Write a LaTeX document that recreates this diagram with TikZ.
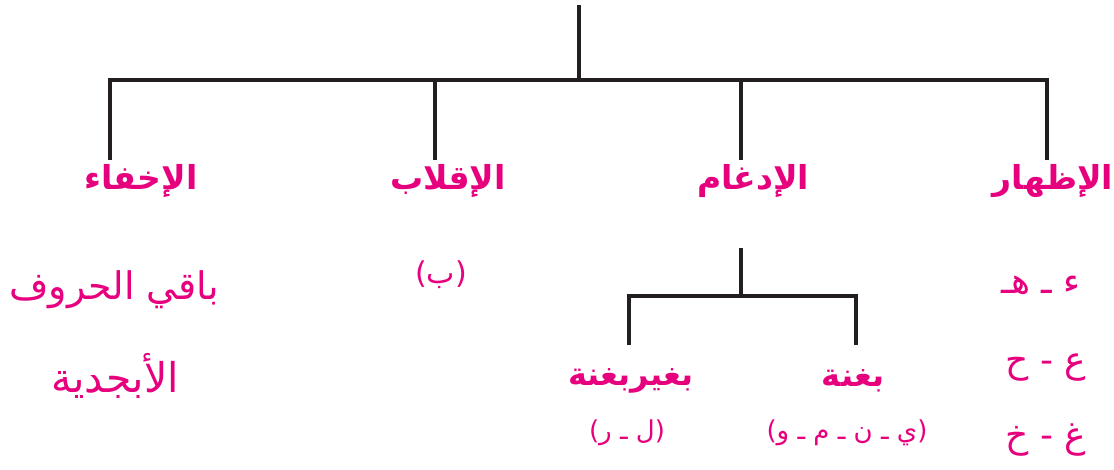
\documentclass[tikz,border=0pt]{standalone}
\usepackage{fontspec}
\TeXXeTstate=1
\newfontfamily\arabicfont[Script=Arabic]{DejaVu Sans}
\definecolor{pinkc}{RGB}{230,0,126}
\definecolor{linec}{RGB}{35,31,32}
\tikzset{
  conn/.style={draw=linec,line width=3.2pt},
  head/.style={text=pinkc,inner sep=0pt,font=\arabicfont\bfseries\fontsize{33}{38}\selectfont},
  sub/.style={text=pinkc,inner sep=0pt,font=\arabicfont\bfseries\fontsize{32}{36}\selectfont},
  item/.style={text=pinkc,inner sep=0pt,font=\arabicfont\fontsize{38}{42}\selectfont},
  letters/.style={text=pinkc,inner sep=0pt,font=\arabicfont\fontsize{36}{40}\selectfont},
  paren/.style={text=pinkc,inner sep=0pt,font=\arabicfont\fontsize{26}{30}\selectfont}
}
\begin{document}
\begin{tikzpicture}[x=1pt,y=-1pt]
\useasboundingbox (0,0) rectangle (1114,469);
% junctions
\coordinate (top) at (579,5);
\coordinate (j) at (579,80);
\coordinate (jl) at (110,80);
\coordinate (jr) at (1047,80);
\coordinate (d1) at (110,160);
\coordinate (d2) at (435,160);
\coordinate (d3) at (741,160);
\coordinate (d4) at (1047,160);
\coordinate (u2) at (435,80);
\coordinate (u3) at (741,80);
% headers
\node[head] (ikhfa) at (141,181) {\beginR الإخفاء\endR};
\node[head] (iqlab) at (448,181) {\beginR الإقلاب\endR};
\node[head] (idgham) at (753,181) {\beginR الإدغام\endR};
\node[head] (izhar) at (1053,181) {\beginR الإظهار\endR};
% tree lines
\draw[conn] (top) -- (j);
\draw[conn,line cap=rect] (jl) -- (jr);
\draw[conn] (jl) -- (d1);
\draw[conn] (u2) -- (d2);
\draw[conn] (u3) -- (d3);
\draw[conn] (jr) -- (d4);
% idgham subtree
\coordinate (s0) at (741,248);
\coordinate (s1) at (741,296);
\coordinate (sl) at (629,296);
\coordinate (sr) at (856,296);
\coordinate (sld) at (629,345);
\coordinate (srd) at (856,345);
\draw[conn] (s0) -- (s1);
\draw[conn,line cap=rect] (sl) -- (sr);
\draw[conn] (sl) -- (sld);
\draw[conn] (sr) -- (srd);
\node[sub] (bighayr) at (631,381) {\beginR بغيربغنة\endR};
\node[sub] (bighunna) at (853,381) {\beginR بغنة\endR};
\node[paren] (lr) at (627,433) {\beginR (ل ـ ر)\endR};
\node[paren] (ynmw) at (847,433) {\beginR (ي ـ ن ـ م ـ و)\endR};
% ikhfa items
\node[item] (baqi) at (114,290) {\beginR باقي الحروف\endR};
\node[item,font=\arabicfont\fontsize{41}{45}\selectfont] (abjad) at (115,376) {\beginR الأبجدية\endR};
% iqlab
\node[paren,font=\arabicfont\fontsize{30}{34}\selectfont] (ba) at (441,275) {\beginR (ب)\endR};
% izhar items
\node[letters] (r1) at (1041,285) {\beginR ء ـ هـ\endR};
\node[letters] (r2) at (1046,368) {\beginR ع - ح\endR};
\node[letters] (r3) at (1046,440) {\beginR غ - خ\endR};
\end{tikzpicture}
\end{document}
